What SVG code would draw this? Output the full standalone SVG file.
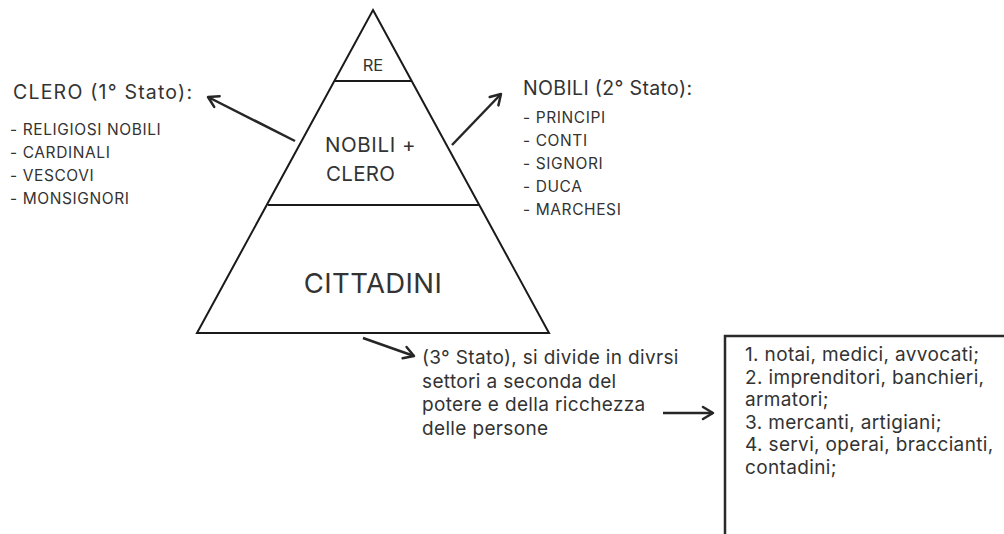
<svg xmlns="http://www.w3.org/2000/svg" width="1004" height="534" viewBox="0 0 1004 534">
<style>
  text { font-family: Inter, "Liberation Sans", Arial, sans-serif; fill: #333; }
  .hdr { font-size: 19.5px; }
  .lst { font-size: 15.5px; letter-spacing: 0.6px; }
  .body { font-size: 19px; letter-spacing: 0.35px; }
  .pyr { stroke: #1a1a1a; stroke-width: 2; fill: none; stroke-linejoin: miter; }
  .conn { stroke: #262626; stroke-width: 2.5; fill: none; }
</style>
<defs>
  <marker id="ah" markerUnits="userSpaceOnUse" markerWidth="16" markerHeight="16" viewBox="0 0 16 16" refX="13" refY="8" orient="auto">
    <path d="M3,2 L13,8 L3,14" fill="none" stroke="#262626" stroke-width="2.5" stroke-linecap="round" stroke-linejoin="round"/>
  </marker>
</defs>
<rect width="1004" height="534" fill="#ffffff"/>

<g id="pyramid">
  <path class="pyr" d="M373,10 L549,333 L197,333 Z"/>
  <line class="pyr" x1="334" y1="81" x2="411" y2="81"/>
  <line class="pyr" x1="268" y1="205" x2="479" y2="205"/>
  <text x="373" y="71" font-size="16.5" text-anchor="middle">RE</text>
  <text x="325" y="152" font-size="20.5" letter-spacing="0.6">NOBILI +</text>
  <text x="326" y="181" font-size="20.5" letter-spacing="0.3">CLERO</text>
  <text x="373" y="293" font-size="27.5" letter-spacing="0.4" text-anchor="middle">CITTADINI</text>
</g>

<g id="clero">
  <text class="hdr" x="13" y="99" textLength="179" lengthAdjust="spacing">CLERO (1° Stato):</text>
  <text class="lst" x="10" y="135">- RELIGIOSI NOBILI</text>
  <text class="lst" x="10" y="158">- CARDINALI</text>
  <text class="lst" x="10" y="181">- VESCOVI</text>
  <text class="lst" x="10" y="204">- MONSIGNORI</text>
</g>

<g id="nobili">
  <text class="hdr" x="523" y="95" textLength="169" lengthAdjust="spacing">NOBILI (2° Stato):</text>
  <text class="lst" x="523" y="123">- PRINCIPI</text>
  <text class="lst" x="523" y="146">- CONTI</text>
  <text class="lst" x="523" y="169">- SIGNORI</text>
  <text class="lst" x="523" y="192">- DUCA</text>
  <text class="lst" x="523" y="215">- MARCHESI</text>
</g>

<g id="terzo-stato">
  <text class="body" x="422" y="364">(3° Stato), si divide in divrsi</text>
  <text class="body" x="422" y="388">settori a seconda del</text>
  <text class="body" x="422" y="411">potere e della ricchezza</text>
  <text class="body" x="422" y="435">delle persone</text>
</g>

<g id="settori">
  <path d="M725,534 V336 H1004" fill="none" stroke="#2a2a2a" stroke-width="2.5"/>
  <text class="body" x="745" y="361">1. notai, medici, avvocati;</text>
  <text class="body" x="745" y="384">2. imprenditori, banchieri,</text>
  <text class="body" x="745" y="406">armatori;</text>
  <text class="body" x="745" y="429">3. mercanti, artigiani;</text>
  <text class="body" x="745" y="451">4. servi, operai, braccianti,</text>
  <text class="body" x="745" y="474">contadini;</text>
</g>

<g id="connectors">
  <line class="conn" x1="295" y1="141" x2="208" y2="97" marker-end="url(#ah)"/>
  <line class="conn" x1="452" y1="145" x2="501" y2="94" marker-end="url(#ah)"/>
  <line class="conn" x1="363" y1="338" x2="414" y2="356" marker-end="url(#ah)"/>
  <line class="conn" x1="663" y1="413" x2="713" y2="413" marker-end="url(#ah)"/>
</g>
</svg>
